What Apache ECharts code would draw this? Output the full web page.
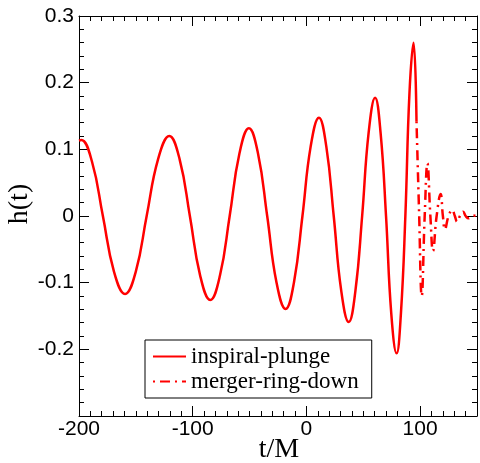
<!DOCTYPE html>
<html>
<head>
<meta charset="utf-8">
<script src="https://cdn.jsdelivr.net/npm/echarts@6/dist/echarts.min.js"></script>
<style>html,body{margin:0;padding:0;background:#fff}#c{width:480px;height:463px}</style>
</head>
<body>
<div id="c"></div>
<script>
// inspiral-plunge (solid): times t/M and strain h(t)
var inspiralT = [-200, -198, -188.5, -179, -169.3, -159.5, -150, -140.5, -130.5, -120.6, -111.5, -102.5, -93.5, -84.6, -76, -67.5, -59, -50.6, -42.5, -34.5, -26.4, -18.3, -10.9, -3.5, 3.7, 11, 17.5, 24, 30.6, 37.2, 43.1, 49, 54.7, 60.4, 65.2, 70, 74.6, 79.3, 83.1, 87, 90.6, 94.2, 96.8];
var inspiralH = [0.113, 0.114, 0.081, 0, -0.083, -0.117, -0.083, 0, 0.085, 0.120, 0.085, 0, -0.089, -0.126, -0.089, 0, 0.093, 0.1315, 0.093, 0, -0.099, -0.1395, -0.099, 0, 0.104, 0.1475, 0.104, 0, -0.112, -0.159, -0.112, 0, 0.125, 0.1775, 0.125, 0, -0.146, -0.206, -0.146, 0, 0.184, 0.26, 0.142];
// merger-ring-down (dash-dot)
var ringT = [96.8, 99, 101.4, 104, 106.4, 109, 111.3, 114.5, 118, 120, 121.8, 125, 128.2, 130.5, 132.5, 135, 137.8, 140, 142.7, 146, 150];
var ringH = [0.142, 0.01, -0.12, 0, 0.079, 0, -0.0525, 0, 0.033, 0, -0.02, 0, 0.009, 0, -0.0085, 0, 0.0065, 0, -0.0035, 0, 0.001];
var seriesNames = ['inspiral-plunge', 'merger-ring-down'];
var xTitle = 't/M', yTitle = 'h(t)';

function pairs(a, b) { return a.map(function (v, i) { return [v, b[i]]; }); }

var chart = echarts.init(document.getElementById('c'), null, { renderer: 'canvas' });
var sans = 'Liberation Sans', serif = 'Liberation Serif';
var black = '#000';
function xAx(pos, interval, tickLen, showLabel, showLine) {
  return {
    type: 'value', position: pos, min: -200, max: 150, interval: interval,
    axisLine: { show: showLine, onZero: false, lineStyle: { color: black, width: 1 } },
    axisTick: { show: true, inside: true, length: tickLen, lineStyle: { color: black, width: 1 } },
    axisLabel: {
      show: showLabel, color: black, fontFamily: sans, fontSize: 21, margin: 3,
      formatter: function (v) { return (Math.abs(v % 100) < 1e-9) ? String(v) : ''; }
    },
    splitLine: { show: false }
  };
}
function yAx(pos, showLabel) {
  return {
    type: 'value', position: pos, min: -0.3, max: 0.3, interval: 0.1,
    axisLine: { show: true, onZero: false, lineStyle: { color: black, width: 1 } },
    axisTick: { show: true, inside: true, length: 10, lineStyle: { color: black, width: 1 } },
    minorTick: { show: true, splitNumber: 5, length: 5, lineStyle: { color: black, width: 1 } },
    axisLabel: {
      show: showLabel, color: black, fontFamily: sans, fontSize: 21, margin: 5,
      formatter: function (v) { return Math.abs(v + 0.3) < 1e-9 ? '' : String(Math.round(v * 10) / 10); }
    },
    splitLine: { show: false }
  };
}
var option = {
  animation: false,
  backgroundColor: '#fff',
  grid: { left: 79, right: 1, top: 16, bottom: 47, containLabel: false },
  xAxis: [xAx('bottom', 10, 5, true, true), xAx('bottom', 100, 10, false, false), xAx('top', 10, 5, false, true), xAx('top', 100, 10, false, false)],
  yAxis: [yAx('left', true), yAx('right', false)],
  legend: {
    left: 145, top: 340, orient: 'vertical',
    padding: [5, 13, 5, 7], itemGap: 2, itemWidth: 33, itemHeight: 14, itemTextGap: 12,
    borderColor: black, borderWidth: 1, borderRadius: 0, backgroundColor: '#fff',
    itemStyle: { opacity: 0 },
    textStyle: { color: black, fontFamily: serif, fontSize: 23, lineHeight: 22 },
    data: seriesNames
  },
  graphic: [
    { type: 'text', x: 279, y: 450, style: { text: xTitle, fill: black, font: '28px "Liberation Serif"', align: 'center', verticalAlign: 'middle' } },
    { type: 'text', x: 20, y: 204, rotation: Math.PI / 2, style: { text: yTitle, fill: black, font: '28px "Liberation Serif"', align: 'center', verticalAlign: 'middle' } }
  ],
  series: [
    {
      name: seriesNames[0], type: 'line', xAxisIndex: 0, yAxisIndex: 0,
      data: pairs(inspiralT, inspiralH), smooth: 0.45, symbol: 'none',
      lineStyle: { color: '#ff0000', width: 2.5 }, itemStyle: { color: '#ff0000' }
    },
    {
      name: seriesNames[1], type: 'line', xAxisIndex: 0, yAxisIndex: 0,
      data: pairs(ringT, ringH), smooth: 0.45, symbol: 'none',
      lineStyle: { color: '#ff0000', width: 2.5, type: [10, 5, 2, 5], dashOffset: 15 }, itemStyle: { color: '#ff0000' }
    }
  ]
};
chart.setOption(option);
</script>
</body>
</html>
